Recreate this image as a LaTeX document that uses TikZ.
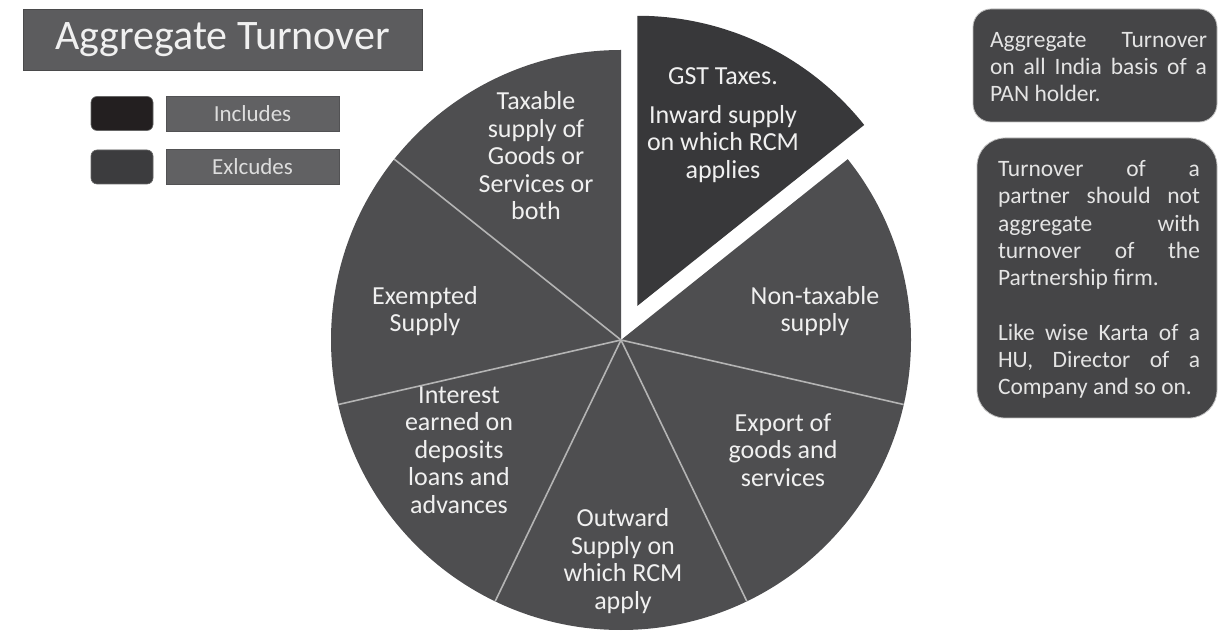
\documentclass[tikz,border=0pt]{standalone}
\usepackage{fontspec}
\setmainfont{Carlito}
\usetikzlibrary{calc}
\definecolor{piecol}{HTML}{4E4E50}
\definecolor{gstcol}{HTML}{38383A}
\definecolor{inccol}{HTML}{231F20}
\definecolor{exccol}{HTML}{3C3C3E}
\definecolor{titlecol}{HTML}{5C5C5E}
\definecolor{legcol}{HTML}{616163}
\definecolor{boxcol}{HTML}{454547}
\definecolor{sepcol}{HTML}{B4B4B4}
\definecolor{txtcol}{HTML}{F0F0F0}
\tikzset{
  slicelabel/.style={align=center, text=txtcol, inner sep=0pt,
    font=\fontsize{26}{27.5}\selectfont},
  legendlabel/.style={fill=legcol, draw=legcol!85!black, line width=0.6pt,
    minimum width=173pt, minimum height=35pt, text=txtcol!92!black, inner sep=0pt,
    font=\fontsize{23}{25}\selectfont},
  swatch/.style={rounded corners=6pt, minimum width=62pt, minimum height=34pt, inner sep=0pt,
    draw=black!60, line width=0.6pt},
  infobox/.style={fill=boxcol, draw=black!25, line width=0.8pt},
  infotext/.style={align=justify, text=txtcol!95!black, inner sep=0pt,
    font=\fontsize{23.5}{27.3}\selectfont\setlength{\parindent}{0pt}},
  separator/.style={draw=sepcol, line width=1.6pt}
}
\begin{document}
\begin{tikzpicture}[x=1pt,y=1pt]
\useasboundingbox (0,0) rectangle (1219,635);
\fill[white] (0,0) rectangle (1219,635);

% title
\node[fill=titlecol, draw=titlecol!80!black, line width=0.8pt, minimum width=399pt,
  minimum height=61pt, inner sep=0pt, text=txtcol,
  font=\fontsize{42}{46}\selectfont] (title) at (222.5,595.5) {Aggregate Turnover};

% legend
\node[swatch, fill=inccol] (incsw) at (122,521.5) {};
\node[legendlabel] (inclab) at (252.5,521.5) {Includes};
\node[swatch, fill=exccol] (excsw) at (122,468) {};
\node[legendlabel] (exclab) at (252.5,468) {Exlcudes};

% pie
\def\R{290}
\coordinate (C) at (621,295);
\fill[piecol] (C) -- ++(90:\R) arc[start angle=90, end angle=398.5714, radius=\R] -- cycle;
\foreach \a/\n in {141.4286/s1,192.8571/s2,244.2857/s3,295.7143/s4,347.1429/s5}{
  \coordinate (\n) at ($(C)+(\a:\R)$);
  \draw[separator] (C) -- (\n);
}
\coordinate (A) at ($(C)+(64.2857:38)$);
\fill[gstcol] (A) -- ++(38.5714:\R) arc[start angle=38.5714, end angle=90, radius=\R] -- cycle;

% slice labels
\node[slicelabel] (gst) at (723,510) {GST Taxes.\\[11pt]Inward supply\\on which RCM\\applies};
\node[slicelabel] (taxable) at (536,479) {Taxable\\supply of\\Goods or\\Services or\\both};
\node[slicelabel] (exempt) at (425,324) {Exempted\\Supply};
\node[slicelabel] (interest) at (459,185) {Interest\\earned on\\deposits\\loans and\\advances};
\node[slicelabel] (outward) at (623,74) {Outward\\Supply on\\which RCM\\apply};
\node[slicelabel] (export) at (783,185) {Export of\\goods and\\services};
\node[slicelabel] (nontax) at (815,324) {Non-taxable\\supply};

% info boxes
\draw[infobox, rounded corners=18pt] (973,513) rectangle (1217,626);
\node[infotext, text width=217pt] (info1) at (1098.5,568)
  {Aggregate Turnover\linebreak on all India basis of a\linebreak PAN holder.};
\draw[infobox, rounded corners=28pt] (977,217) rectangle (1217,497);
\node[infotext, text width=202pt] (info2) at (1099,355.5)
  {Turnover of a\linebreak partner should not\linebreak aggregate with\linebreak turnover of the\linebreak Partnership firm.\par\vspace{27.3pt}Like wise Karta of a\linebreak HU, Director of a\linebreak Company and so on.};
\end{tikzpicture}
\end{document}
